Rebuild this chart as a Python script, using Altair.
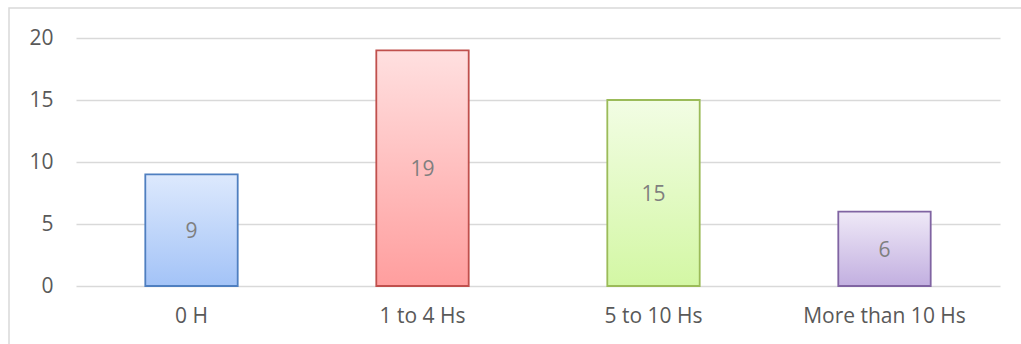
import altair as alt
import pandas as pd

categories = ["0 H", "1 to 4 Hs", "5 to 10 Hs", "More than 10 Hs"]
values = [9, 19, 15, 6]
top_colors = ["#dde9fd", "#ffe0e0", "#f2fde4", "#efe9f7"]
bottom_colors = ["#a3c3f7", "#ff9e9e", "#d3f7a4", "#c2afe0"]
stroke_colors = ["#4f7fc0", "#c0504d", "#9bbb59", "#8064a2"]

df = pd.DataFrame({"cat": categories, "val": values})
df["mid"] = df["val"] / 2

FONT = "Open Sans"

x_enc = alt.X("cat:N", sort=categories, title=None,
              scale=alt.Scale(paddingInner=0.6, paddingOuter=0.3),
              axis=alt.Axis(labelAngle=0, labelFontSize=21, labelColor="#595959",
                            labelFont=FONT, ticks=False, domain=False, labelPadding=19,
                            grid=False))
y_enc = alt.Y("val:Q", title=None,
              scale=alt.Scale(domain=[0, 20]),
              axis=alt.Axis(values=[0, 5, 10, 15, 20], labelFontSize=21,
                            labelColor="#595959", labelFont=FONT, ticks=False,
                            domain=False, labelPadding=23, gridColor="#d9d9d9",
                            gridWidth=1.5))

base = alt.Chart(df)

border = alt.Chart(df).mark_rect(filled=False, stroke="#d9d9d9", strokeWidth=1.5).encode(
    x=alt.value(-67), x2=alt.value(990), y=alt.value(-30), y2=alt.value(400)
).transform_filter(alt.datum.cat == categories[0])

layers = []
for i, c in enumerate(categories):
    grad = alt.Gradient(gradient="linear", x1=0, x2=0, y1=0, y2=1,
                        stops=[alt.GradientStop(color=top_colors[i], offset=0),
                               alt.GradientStop(color=bottom_colors[i], offset=1)])
    layers.append(
        base.transform_filter(alt.datum.cat == c).mark_bar(
            fill=grad, stroke=stroke_colors[i], strokeWidth=1.8
        ).encode(x=x_enc, y=y_enc)
    )

text = base.mark_text(fontSize=21, font=FONT, color="#7f7f7f", dy=2).encode(
    x=alt.X("cat:N", sort=categories),
    y=alt.Y("mid:Q"),
    text=alt.Text("val:Q"),
)

chart = alt.layer(*layers, text, border).properties(
    width=924, height=248,
    autosize=alt.AutoSizeParams(type="none"),
    padding={"left": 76, "top": 38, "right": 21, "bottom": 58},
    background="white",
).configure_view(stroke=None)

chart.save("out.html", embed_options={"renderer": "svg", "actions": False})
